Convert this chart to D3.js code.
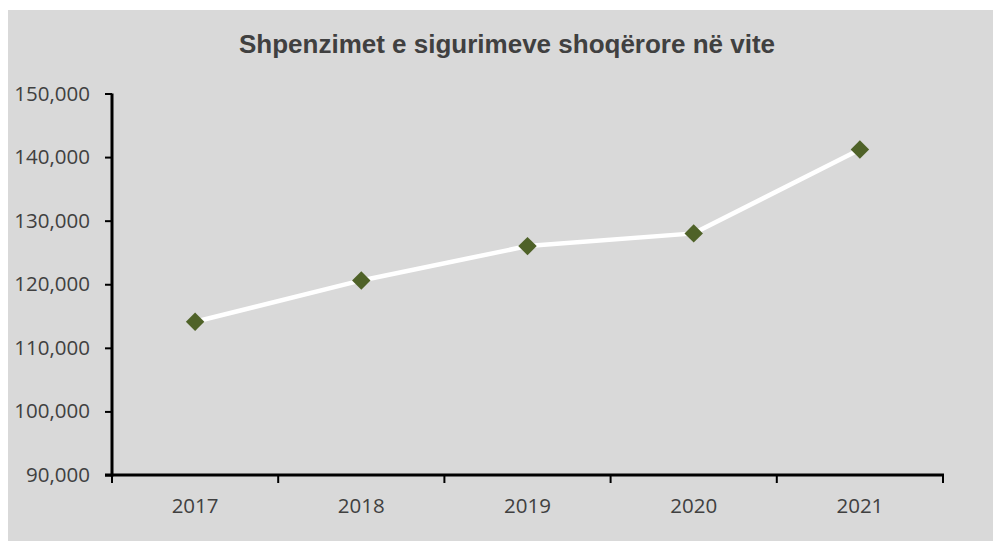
<!DOCTYPE html>
<html>
<head>
<meta charset="utf-8">
<script src="https://cdn.jsdelivr.net/npm/d3@7"></script>
<style>
  body { margin: 0; background: #fff; }
</style>
</head>
<body>
<div id="chart"></div>
<script>
var years = ["2017", "2018", "2019", "2020", "2021"];
var spending = [114100, 120600, 126000, 128000, 141200];
var yTicks = [90000, 100000, 110000, 120000, 130000, 140000, 150000];
var title = "Shpenzimet e sigurimeve shoqërore në vite";

var width = 993,
  height = 541;

var svg = d3.select("#chart")
  .append("svg")
  .attr("width", width)
  .attr("height", height)

svg.append("rect")
  .attr("x", 8)
  .attr("y", 10)
  .attr("width", width - 8)
  .attr("height", height - 10)
  .attr("fill", "#d9d9d9")

svg.append("text")
  .attr("x", 507)
  .attr("y", 53)
  .attr("text-anchor", "middle")
  .attr("font-family", "'Liberation Sans', Arial, sans-serif")
  .attr("font-weight", "bold")
  .attr("font-size", "26px")
  .attr("fill", "#404040")
  .text(title)

var x = d3.scaleBand().domain(years).range([112, 943]).padding(0);
var y = d3.scaleLinear().domain([90000, 150000]).range([475, 93.5]);

var data = years.map(function (d, i) {
  return { year: d, value: spending[i] };
});

// y axis
var yAxis = svg.append("g")
  .attr("transform", "translate(112,0)")
  .call(d3.axisLeft(y).tickValues(yTicks).tickFormat(d3.format(",")).tickSize(7).tickPadding(15))
yAxis.select(".domain").remove()
yAxis.selectAll(".tick line").attr("stroke", "#000").attr("stroke-width", 2)
yAxis.selectAll(".tick text")
  .attr("font-family", "'Open Sans', sans-serif")
  .attr("font-size", "20.5px")
  .attr("fill", "#404040")

// x axis: ticks sit on the band edges
var xAxis = svg.append("g").attr("transform", "translate(0,475)")
var edges = years.map(function (d) { return x(d); }).concat([x.range()[1]]);
xAxis.selectAll(".edge")
  .data(edges)
  .enter().append("line")
  .attr("x1", function (d) { return d; })
  .attr("x2", function (d) { return d; })
  .attr("y1", 0)
  .attr("y2", 8)
  .attr("stroke", "#000")
  .attr("stroke-width", 2)
xAxis.selectAll(".year")
  .data(years)
  .enter().append("text")
  .attr("x", function (d) { return x(d) + x.bandwidth() / 2; })
  .attr("y", 38)
  .attr("text-anchor", "middle")
  .attr("font-family", "'Open Sans', sans-serif")
  .attr("font-size", "20.5px")
  .attr("fill", "#404040")
  .text(function (d) { return d; })

svg.append("line")
  .attr("x1", 105).attr("x2", 944)
  .attr("y1", 475).attr("y2", 475)
  .attr("stroke", "#000").attr("stroke-width", 3)
svg.append("line")
  .attr("x1", 112).attr("x2", 112)
  .attr("y1", 93.5).attr("y2", 476.5)
  .attr("stroke", "#000").attr("stroke-width", 3)

var line = d3.line()
  .x(function (d) { return x(d.year) + x.bandwidth() / 2; })
  .y(function (d) { return y(d.value); })

svg.append("path")
  .datum(data)
  .attr("d", line)
  .attr("fill", "none")
  .attr("stroke", "#fff")
  .attr("stroke-width", 4.5)

var diamond = d3.symbol().type(d3.symbolSquare).size(170);
svg.selectAll(".point")
  .data(data)
  .enter().append("path")
  .attr("class", "point")
  .attr("d", diamond)
  .attr("transform", function (d) {
    return "translate(" + (x(d.year) + x.bandwidth() / 2) + "," + y(d.value) + ") rotate(45)";
  })
  .attr("fill", "#4f6228")
</script>
</body>
</html>
